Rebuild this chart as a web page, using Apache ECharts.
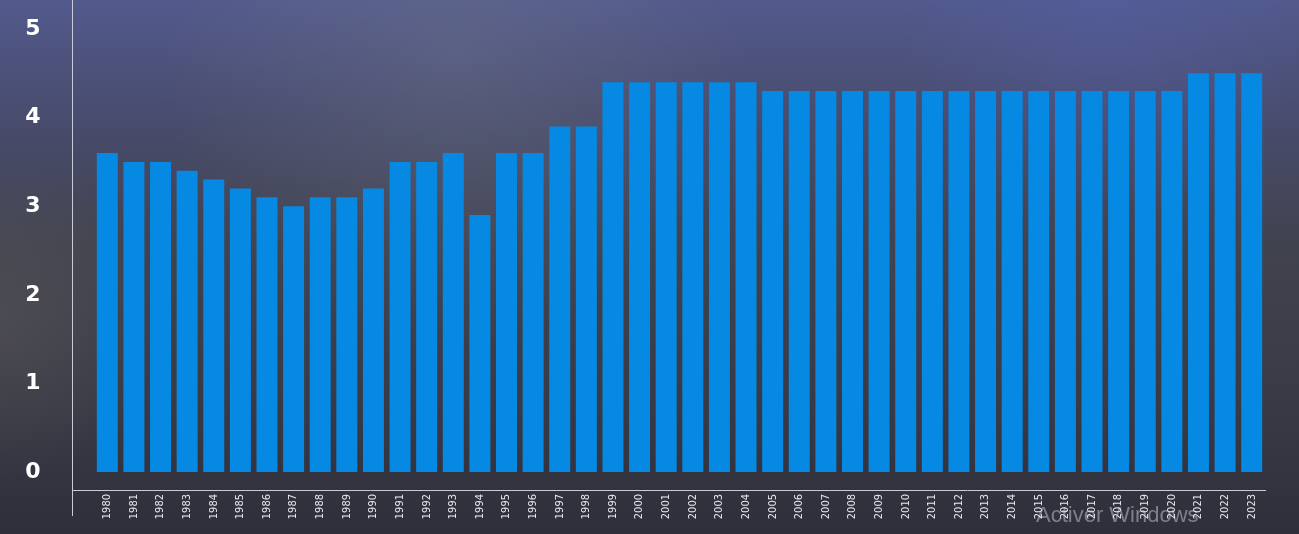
<!DOCTYPE html>
<html>
<head>
<meta charset="utf-8">
<script src="https://cdn.jsdelivr.net/npm/echarts@6/dist/echarts.min.js"></script>
<style>
html, body { margin: 0; padding: 0; }
#main { width: 1299px; height: 534px; }
</style>
</head>
<body>
<div id="main"></div>
<script type="text/javascript">

var years = ['1980','1981','1982','1983','1984','1985','1986','1987','1988','1989',
             '1990','1991','1992','1993','1994','1995','1996','1997','1998','1999',
             '2000','2001','2002','2003','2004','2005','2006','2007','2008','2009',
             '2010','2011','2012','2013','2014','2015','2016','2017','2018','2019',
             '2020','2021','2022','2023'];

var values = [3.6, 3.5, 3.5, 3.4, 3.3, 3.2, 3.1, 3.0, 3.1, 3.1,
              3.2, 3.5, 3.5, 3.6, 2.9, 3.6, 3.6, 3.9, 3.9, 4.4,
              4.4, 4.4, 4.4, 4.4, 4.4, 4.3, 4.3, 4.3, 4.3, 4.3,
              4.3, 4.3, 4.3, 4.3, 4.3, 4.3, 4.3, 4.3, 4.3, 4.3,
              4.3, 4.5, 4.5, 4.5];

var yTicks = [0, 1, 2, 3, 4, 5];

var chart = echarts.init(document.getElementById('main'));

var option = {
    backgroundColor: {
        type: 'linear', x: 0, y: 0, x2: 0, y2: 1,
        colorStops: [
            {offset: 0, color: '#525a8c'},
            {offset: 0.2, color: '#494d70'},
            {offset: 0.45, color: '#41434f'},
            {offset: 0.75, color: '#393a46'},
            {offset: 1, color: '#2e2f3b'}
        ]
    },
    graphic: [
        // blue tint in the upper right
        {
            type: 'rect', silent: true, z: -1,
            shape: {x: 0, y: 0, width: 1299, height: 534},
            style: {
                fill: {
                    type: 'radial', x: 0.85, y: 0.0, r: 0.4,
                    colorStops: [
                        {offset: 0, color: 'rgba(85,95,165,0.5)'},
                        {offset: 1, color: 'rgba(85,95,165,0)'}
                    ]
                }
            }
        },
        // soft grey haze behind the middle of the top
        {
            type: 'rect', silent: true, z: -1,
            shape: {x: 0, y: 0, width: 1299, height: 534},
            style: {
                fill: {
                    type: 'radial', x: 0.35, y: 0.1, r: 0.55,
                    colorStops: [
                        {offset: 0, color: 'rgba(120,126,140,0.3)'},
                        {offset: 1, color: 'rgba(120,126,140,0)'}
                    ]
                }
            }
        },
        // greyish glow on the left edge
        {
            type: 'rect', silent: true, z: -1,
            shape: {x: 0, y: 0, width: 1299, height: 534},
            style: {
                fill: {
                    type: 'radial', x: 0.0, y: 0.6, r: 0.3,
                    colorStops: [
                        {offset: 0, color: 'rgba(110,105,100,0.3)'},
                        {offset: 1, color: 'rgba(110,105,100,0)'}
                    ]
                }
            }
        },
        // vertical frame line
        {
            type: 'line', silent: true,
            shape: {x1: 72.5, y1: 0, x2: 72.5, y2: 516},
            style: {stroke: '#c9ccd8', lineWidth: 1}
        },
        // horizontal frame line
        {
            type: 'line', silent: true,
            shape: {x1: 72, y1: 490.5, x2: 1266, y2: 490.5},
            style: {stroke: '#c9ccd8', lineWidth: 1}
        },
        {
            type: 'text', silent: true,
            left: 1036, top: 505,
            style: {
                text: 'Activer Windows',
                fill: 'rgba(190,192,200,0.55)',
                font: '22px "Liberation Sans", sans-serif'
            }
        }
    ],
    grid: {
        left: 94,
        right: 34,
        top: 29,
        bottom: 62
    },
    xAxis: {
        type: 'category',
        data: years,
        offset: 18,
        axisLine: {show: false},
        axisTick: {show: false},
        axisLabel: {
            interval: 0,
            rotate: 90,
            margin: 4,
            color: '#e6e8ee',
            fontSize: 11,
            fontFamily: '"Liberation Sans Narrow", "DejaVu Sans Condensed", sans-serif'
        }
    },
    yAxis: {
        type: 'value',
        min: yTicks[0],
        max: yTicks[yTicks.length - 1],
        interval: 1,
        splitLine: {show: false},
        axisLine: {show: false},
        axisTick: {show: false},
        axisLabel: {
            margin: 61,
            align: 'center',
            color: '#ffffff',
            fontSize: 22,
            fontWeight: 'bold',
            fontFamily: '"DejaVu Sans", sans-serif'
        }
    },
    series: [
        {
            type: 'bar',
            data: values,
            barWidth: 21,
            itemStyle: {color: '#0689e2'}
        }
    ]
};

chart.setOption(option);

</script>
</body>
</html>
